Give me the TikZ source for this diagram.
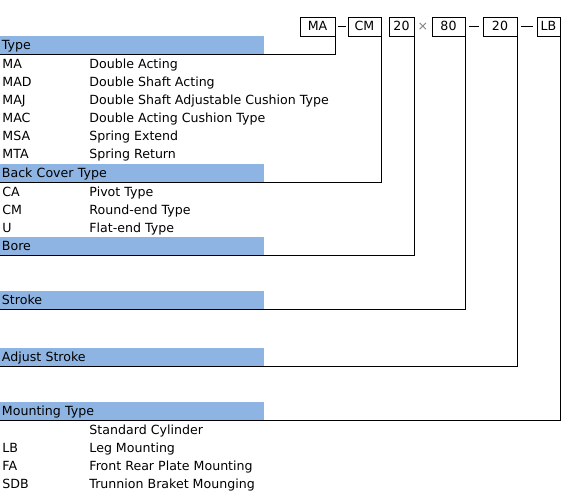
\documentclass[tikz,border=0pt]{standalone}
\usepackage{fontspec}
\setmainfont{DejaVu Sans}
\usepackage{tikz}
\definecolor{barblue}{RGB}{141,180,226}

\begin{document}
\begin{tikzpicture}[x=1pt, y=-1pt,
  font=\fontsize{12.6}{14}\selectfont, line width=0.9pt,
  bar/.style={anchor=north west, fill=barblue, minimum height=18pt, text width=261pt, inner xsep=1.5pt, inner ysep=0pt, text height=10pt, text depth=1pt, align=left},
  code/.style={anchor=west, inner sep=0pt, text height=10pt, text depth=1pt},
  desc/.style={code},
  codebox/.style={draw, minimum height=19pt, inner sep=0pt, text height=10pt, text depth=1pt},
  dashln/.style={shorten <=3.5pt, shorten >=3.5pt}]
\useasboundingbox (0,0) rectangle (572,502);
% header bars
\node[bar] (type) at (0,36) {Type};
\node[bar] (back) at (0,164) {Back Cover Type};
\node[bar] (bore) at (0,237) {Bore};
\node[bar] (stroke) at (0,291) {Stroke};
\node[bar] (adjust) at (0,348) {Adjust Stroke};
\node[bar] (mount) at (0,402) {Mounting Type};
% rows
\foreach [count=\i] \c/\d in {MA/Double Acting, MAD/Double Shaft Acting,
    MAJ/Double Shaft Adjustable Cushion Type, MAC/Double Acting Cushion Type,
    MSA/Spring Extend, MTA/Spring Return}
  {\node[code] (tc\i) at (2,46+18*\i) {\c};
   \node[desc] (td\i) at (89,46+18*\i) {\d};}
\foreach [count=\i] \c/\d in {CA/Pivot Type, CM/Round-end Type, U/Flat-end Type}
  {\node[code] (bc\i) at (2,174+18*\i) {\c};
   \node[desc] (bd\i) at (89,174+18*\i) {\d};}
\foreach [count=\i] \c/\d in {/Standard Cylinder, LB/Leg Mounting,
    FA/Front Rear Plate Mounting, SDB/Trunnion Braket Mounging}
  {\node[code] (mc\i) at (2,412+18*\i) {\c};
   \node[desc] (md\i) at (89,412+18*\i) {\d};}
% model code
\node[codebox, minimum width=35pt] (ma) at (317.5,26.5) {MA};
\node[codebox, minimum width=33pt] (cm) at (364.5,26.5) {CM};
\node[codebox, minimum width=25pt] (bo) at (401.5,26.5) {20};
\node[text=gray, inner sep=0pt] (times) at (423,27) {×};
\node[codebox, minimum width=33pt] (st) at (448.5,26.5) {80};
\node[codebox, minimum width=34pt] (ad) at (500,26.5) {20};
\node[codebox, minimum width=23pt] (lb) at (548.5,26.5) {LB};
\draw[dashln, shorten <=2.5pt, shorten >=2pt] (ma) -- (cm);
\draw[dashln] (st) -- (ad);
\draw[dashln] (ad) -- (lb);
% leaders
\draw (ma.south east) |- (type.south west);
\draw (cm.south east) |- (back.south west);
\draw (bo.south east) |- (bore.south west);
\draw (st.south east) |- (stroke.south west);
\draw (ad.south east) |- (adjust.south west);
\draw (lb.south east) |- (mount.south west);
\end{tikzpicture}
\end{document}
